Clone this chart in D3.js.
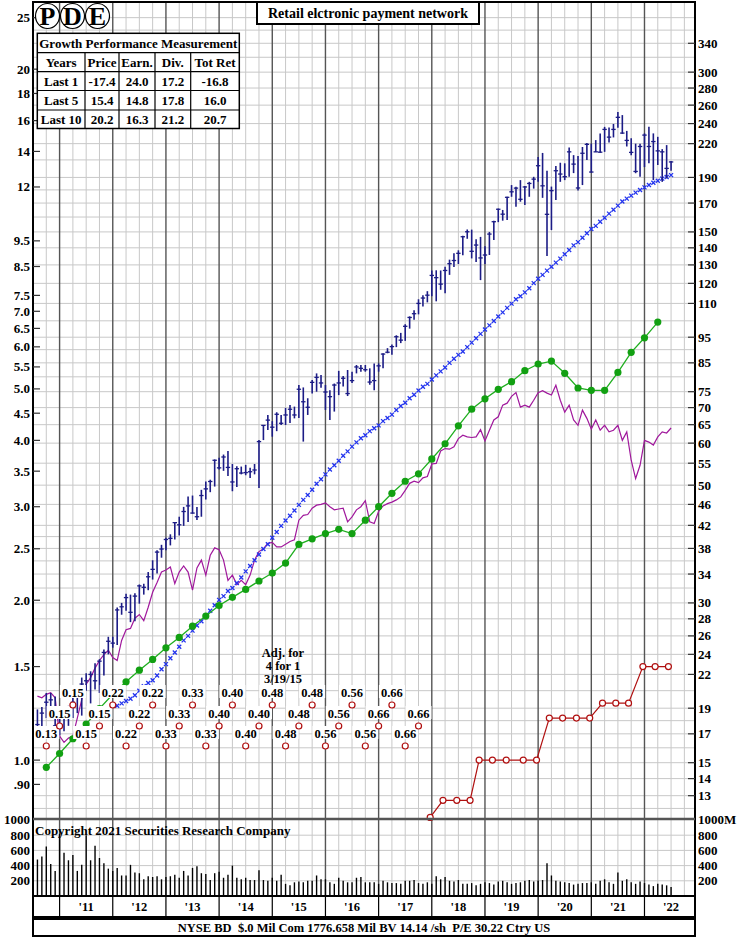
<!DOCTYPE html>
<html>
<head>
<meta charset="utf-8">
<script src="https://cdn.jsdelivr.net/npm/d3@7"></script>
<style>
  body { margin: 0; background: #fff; }
  text { font-family: "Liberation Serif", "Times New Roman", serif; font-weight: bold; }
</style>
</head>
<body>
<div id="visual"></div>
<script>
// monthly price bars, first bar = Aug 2010
const FIRST_MONTH = 2010 + 7 / 12

const priceHigh = [18.9, 19.1, 20.3, 20.3, 20.0, 18.4, 18.8, 19.2, 20.1, 20.4, 21.7, 22.1,
  22.3, 23.1, 23.5, 24.5, 25.9, 25.9, 29.4, 30.0, 31.2, 31.1, 31.3, 32.5,
  32.6, 34.3, 36.1, 37.7, 38.6, 39.8, 40.4, 42.6, 43.6, 45.5, 47.6, 47.8,
  45.5, 49.0, 50.8, 51.2, 55.9, 56.3, 57.1, 58.0, 54.8, 54.3, 54.2, 54.6,
  53.9, 54.8, 60.8, 64.9, 67.8, 66.0, 68.6, 67.8, 69.9, 70.8, 70.3, 77.2,
  76.4, 72.9, 78.9, 81.2, 80.6, 77.2, 75.5, 77.7, 82.1, 80.3, 82.4, 81.8,
  84.2, 84.2, 84.2, 83.0, 84.8, 84.8, 88.6, 90.6, 92.0, 95.8, 96.8, 100.5,
  104.0, 106.8, 112.0, 114.0, 116.0, 126.9, 127.0, 126.9, 128.9, 133.0, 136.7, 138.5,
  147.5, 151.6, 151.5, 145.3, 146.8, 141.0, 150.0, 157.5, 166.0, 165.0, 174.7, 183.8,
  182.5, 187.8, 183.0, 186.4, 190.5, 207.6, 211.3, 195.6, 182.6, 199.6, 202.5, 202.0,
  216.4, 209.3, 208.4, 216.8, 220.6, 220.0, 223.4, 229.9, 236.6, 235.9, 239.6, 252.5,
  249.0, 232.5, 225.2, 220.0, 220.0, 230.0, 236.6, 230.0, 226.6, 214.8, 218.6, 204.0]
const priceLow = [17.2, 17.5, 18.2, 18.6, 16.9, 16.9, 17.2, 17.6, 18.2, 18.6, 18.4, 20.5,
  19.4, 20.6, 20.3, 21.9, 24.0, 24.7, 25.0, 28.5, 29.0, 27.6, 27.7, 29.9,
  31.1, 31.7, 33.2, 34.1, 36.5, 37.7, 38.5, 39.5, 40.2, 41.9, 42.6, 44.2,
  43.0, 43.6, 47.0, 48.5, 49.7, 53.5, 53.2, 52.0, 48.7, 49.6, 52.4, 52.2,
  51.6, 52.4, 49.4, 60.8, 63.5, 61.7, 63.2, 64.9, 64.9, 65.5, 66.8, 66.9,
  60.4, 67.8, 74.4, 75.0, 76.3, 69.3, 66.3, 68.8, 73.9, 76.7, 73.6, 77.9,
  81.2, 81.8, 81.8, 77.3, 75.5, 81.8, 83.0, 88.6, 88.0, 91.0, 92.6, 93.5,
  98.6, 102.5, 104.9, 108.5, 110.5, 113.5, 111.0, 116.7, 115.0, 124.5, 128.8, 130.5,
  135.5, 145.6, 133.7, 131.6, 121.7, 130.5, 135.7, 144.8, 156.5, 157.5, 157.9, 174.7,
  167.3, 171.0, 168.6, 174.7, 181.0, 186.4, 173.9, 135.1, 151.2, 172.3, 186.4, 187.8,
  190.6, 193.6, 179.5, 183.8, 204.9, 194.0, 212.3, 211.5, 212.3, 221.0, 226.0, 235.7,
  229.6, 217.3, 209.3, 193.5, 190.6, 198.7, 202.0, 187.8, 200.5, 186.4, 189.2, 195.6]
const priceClose = [17.7, 18.6, 19.5, 19.7, 17.6, 17.5, 18.3, 18.4, 19.5, 20.3, 21.1, 21.4,
  22.0, 21.4, 23.3, 24.2, 25.4, 25.2, 29.1, 29.5, 30.7, 28.8, 30.9, 32.3,
  32.1, 33.6, 34.7, 37.4, 37.9, 39.5, 39.7, 42.5, 42.1, 44.6, 45.7, 44.3,
  43.6, 47.8, 49.2, 50.8, 55.7, 53.9, 56.5, 54.0, 50.7, 53.7, 52.7, 52.8,
  53.0, 53.4, 60.4, 64.8, 66.3, 64.3, 68.0, 65.4, 67.8, 69.5, 67.8, 75.8,
  71.8, 70.1, 78.1, 79.8, 77.9, 74.9, 73.4, 77.2, 77.9, 79.5, 74.4, 78.7,
  83.5, 83.0, 82.5, 78.2, 78.7, 83.9, 88.3, 89.0, 91.2, 95.2, 93.8, 99.6,
  103.5, 105.2, 110.0, 112.6, 114.0, 124.2, 123.0, 119.6, 126.9, 130.7, 132.5, 136.7,
  146.9, 150.1, 137.9, 141.7, 134.0, 135.7, 148.6, 156.8, 165.5, 162.0, 174.3, 178.5,
  181.4, 172.8, 182.3, 185.1, 188.6, 199.9, 183.2, 161.9, 179.4, 195.6, 192.8, 190.6,
  212.3, 201.3, 181.5, 211.0, 219.3, 194.5, 212.3, 212.0, 234.0, 226.3, 234.0, 246.6,
  230.3, 223.1, 211.8, 195.0, 217.3, 228.3, 217.3, 222.0, 213.2, 212.3, 197.6, 203.2]

// monthly volume, millions of shares
const volume = [480, 520, 650, 420, 330, 820, 570, 470, 540, 330, 410, 800,
  470, 660, 500, 430, 360, 330, 370, 270, 270, 410, 310, 300,
  220, 260, 250, 260, 220, 250, 260, 280, 240, 330, 270, 370,
  390, 300, 290, 210, 300, 320, 240, 280, 400, 240, 220, 240,
  210, 210, 340, 210, 200, 240, 200, 280, 160, 140, 180, 190,
  180, 200, 200, 270, 220, 220, 180, 160, 240, 200, 180, 180,
  240, 250, 180, 180, 180, 160, 200, 180, 170, 170, 160, 200,
  200, 210, 170, 160, 180, 160, 260, 220, 250, 200, 190, 210,
  160, 160, 170, 140, 160, 180, 170, 150, 190, 200, 180, 160,
  170, 180, 200, 210, 190, 200, 210, 430, 270, 200, 190, 180,
  170, 150, 160, 170, 170, 180, 160, 200, 220, 180, 160, 310,
  200, 220, 180, 160, 190, 170, 150, 130, 160, 150, 140, 120]

// magenta ratio line, monthly from first bar (left scale units)
const ratioLine = [1.32, 1.31, 1.33, 1.34, 1.31, 1.11, 1.08, 1.10, 1.11, 1.20, 1.30, 1.39,
  1.43, 1.49, 1.54, 1.58, 1.61, 1.56, 1.54, 1.68, 1.76, 1.77, 1.85, 1.88,
  1.83, 1.94, 2.07, 2.16, 2.26, 2.28, 2.31, 2.15, 2.26, 2.32, 2.26, 2.09,
  2.30, 2.38, 2.23, 2.43, 2.51, 2.49, 2.38, 2.18, 2.23, 2.14, 2.18, 2.14,
  2.23, 2.38, 2.47, 2.50, 2.56, 2.57, 2.52, 2.52, 2.55, 2.58, 2.60, 2.83,
  2.89, 2.90, 2.98, 3.02, 3.03, 3.05, 3.00, 2.96, 2.97, 2.98, 2.81, 2.87,
  2.96, 3.00, 3.08, 2.81, 2.79, 2.94, 3.01, 3.04, 3.06, 3.09, 3.13, 3.22,
  3.32, 3.35, 3.33, 3.40, 3.42, 3.61, 3.62, 3.82, 3.86, 3.85, 3.89, 4.03,
  4.09, 4.06, 4.05, 4.06, 4.19, 3.99, 4.18, 4.37, 4.43, 4.66, 4.70, 4.84,
  4.92, 4.62, 4.66, 4.62, 4.76, 4.92, 4.96, 4.91, 4.87, 5.08, 4.76, 4.52,
  4.66, 4.37, 4.27, 4.56, 4.40, 4.20, 4.37, 4.18, 4.27, 4.15, 4.18, 4.27,
  4.00, 4.15, 3.67, 3.39, 3.59, 4.00, 3.97, 3.92, 4.06, 4.15, 4.13, 4.22]

// blue x line (price scale), monthly starting at bar 18
const AVG_OFFSET = 18
const avgLine = [19.2, 19.4, 19.6, 19.8, 20.1, 20.5, 20.9, 21.2, 21.45, 21.9, 22.5, 23.0,
  23.6, 24.2, 24.8, 25.5, 26.0, 26.6, 27.2, 27.7, 28.4, 29.0, 29.7, 30.4,
  30.9, 31.6, 32.0, 32.7, 33.5, 34.4, 35.2, 36.1, 37.0, 37.9, 38.7, 39.8,
  40.8, 41.9, 42.9, 43.8, 44.8, 45.9, 46.9, 47.9, 49.0, 50.3, 51.3, 52.4,
  53.5, 54.5, 55.6, 56.8, 57.9, 59.1, 60.2, 61.3, 62.1, 63.2, 64.0, 64.8,
  66.0, 66.9, 67.9, 69.3, 70.5, 71.5, 72.9, 74.0, 75.4, 76.6, 77.6, 79.1,
  80.5, 81.9, 83.3, 85.0, 86.5, 88.0, 89.3, 91.0, 92.8, 94.6, 96.4, 98.2,
  100.0, 101.9, 103.9, 105.8, 107.9, 109.9, 112.0, 113.5, 115.4, 117.5, 120.1, 122.4,
  124.5, 126.8, 129.0, 131.3, 133.6, 136.2, 138.7, 141.5, 143.5, 146.3, 149.1, 151.9,
  154.0, 156.8, 159.5, 162.4, 165.2, 168.1, 171.1, 173.3, 175.6, 177.9, 179.9, 182.0,
  183.8, 185.7, 187.3, 189.0, 190.4, 191.9]

// quarterly earnings (left scale), first point Oct 2010
const EARN_START = 2010.75
const earnings = [0.969, 1.029, 1.097, 1.169, 1.25, 1.33, 1.404, 1.477, 1.547, 1.627, 1.702, 1.787,
  1.867, 1.955, 2.025, 2.096, 2.174, 2.25, 2.35, 2.548, 2.61, 2.67, 2.72, 2.67,
  2.83, 3.0, 3.18, 3.35, 3.46, 3.69, 3.94, 4.26, 4.58, 4.79, 4.99, 5.16,
  5.41, 5.57, 5.64, 5.35, 5.02, 4.97, 4.97, 5.37, 5.86, 6.24, 6.68]

// quarterly dividend labels, same start as earnings
const divLabels = ["0.13", "0.15", "0.15", "0.15", "0.15", "0.22", "0.22", "0.22", "0.22", "0.33",
  "0.33", "0.33", "0.33", "0.40", "0.40", "0.40", "0.40", "0.48", "0.48", "0.48",
  "0.48", "0.56", "0.56", "0.56", "0.56", "0.66", "0.66", "0.66", "0.66"]

// annual dividend rate (left scale)
const divDates = [2017.97, 2018.21, 2018.47, 2018.72, 2018.89, 2019.14, 2019.40, 2019.72, 2019.97,
  2020.21, 2020.46, 2020.72, 2020.97, 2021.21, 2021.46, 2021.70, 2021.97, 2022.20, 2022.45]
const divRate = [0.78, 0.84, 0.84, 0.84, 1.00, 1.00, 1.00, 1.00, 1.00,
  1.20, 1.20, 1.20, 1.20, 1.28, 1.28, 1.28, 1.50, 1.50, 1.50]

const years = [2011, 2012, 2013, 2014, 2015, 2016, 2017, 2018, 2019, 2020, 2021, 2022]
const yearLabels = ["'11", "'12", "'13", "'14", "'15", "'16", "'17", "'18", "'19", "'20", "'21", "'22"]

const leftTicks = [25, 20, 18, 16, 14, 12, 9.5, 8.5, 7.5, 7.0, 6.5, 6.0, 5.5, 5.0, 4.5, 4.0, 3.5, 3.0, 2.5, 2.0, 1.5, 1.0, 0.9]
const rightTicks = [340, 300, 280, 260, 240, 220, 190, 170, 150, 140, 130, 120, 110, 95, 85, 75, 70, 65,
  60, 55, 50, 46, 42, 38, 34, 30, 28, 26, 24, 22, 19, 17, 15, 14, 13]
const gridValues = [380, 360, 340, 320, 300, 280, 260, 240, 220, 205, 190, 180, 170, 160, 150, 140, 130,
  120, 110, 102, 95, 90, 85, 80, 75, 70, 65, 60, 55, 50, 46, 42, 40, 38, 36, 34, 32, 30, 28,
  26, 24, 22, 20.5, 19, 18, 17, 16, 15, 14, 13, 12.3]
const volTicks = [200, 400, 600, 800]

const perfHeader = ["Years", "Price", "Earn.", "Div.", "Tot Ret"]
const perfRows = [
  ["Last 1", "-17.4", "24.0", "17.2", "-16.8"],
  ["Last 5", "15.4", "14.8", "17.8", "16.0"],
  ["Last 10", "20.2", "16.3", "21.2", "20.7"]
]

// ---------------------------------------------------------------
const width = 741, height = 937
const plot = { left: 33, right: 695, top: 2, bottom: 818 }
const vol = { top: 820, bottom: 896 }

const svg = d3.select("#visual").append("svg")
  .attr("width", width).attr("height", height)
  .style("background", "#fff")

const x = d3.scaleLinear().domain([2010.5, 2022.95]).range([plot.left, plot.right])
const yPrice = d3.scaleLog().domain([11.8, 406.7]).range([plot.bottom, plot.top])
const yLeft = d3.scaleLog().domain([0.778, 26.76]).range([plot.bottom, plot.top])
const yVol = d3.scaleLinear().domain([0, 1000]).range([vol.bottom, vol.top])

const monthT = i => FIRST_MONTH + i / 12

// grid
const quarters = d3.range(2010.75, 2022.95, 0.25).filter(q => Math.abs(q - Math.round(q)) > 0.01)
const grid = svg.append("g")
grid.selectAll(".qv").data(quarters).enter().append("line")
  .attr("x1", d => x(d)).attr("x2", d => x(d))
  .attr("y1", plot.top).attr("y2", vol.bottom)
  .attr("stroke", "#c8c8c8").attr("stroke-width", 1)
grid.selectAll(".hg").data(gridValues).enter().append("line")
  .attr("x1", plot.left).attr("x2", plot.right)
  .attr("y1", d => yPrice(d)).attr("y2", d => yPrice(d))
  .attr("stroke", "#c8c8c8").attr("stroke-width", 1)
grid.selectAll(".vg").data(volTicks).enter().append("line")
  .attr("x1", plot.left).attr("x2", plot.right)
  .attr("y1", d => yVol(d)).attr("y2", d => yVol(d))
  .attr("stroke", "#c8c8c8").attr("stroke-width", 1)
grid.selectAll(".yl").data(years).enter().append("line")
  .attr("x1", d => x(d)).attr("x2", d => x(d))
  .attr("y1", plot.top).attr("y2", vol.bottom)
  .attr("stroke", "#555").attr("stroke-width", 1.4)

// volume bars
svg.selectAll(".vb").data(volume).enter().append("line")
  .attr("x1", (d, i) => x(monthT(i))).attr("x2", (d, i) => x(monthT(i)))
  .attr("y1", vol.bottom).attr("y2", d => yVol(d))
  .attr("stroke", "#000").attr("stroke-width", 1.4)

// magenta ratio line
svg.append("path").datum(ratioLine)
  .attr("fill", "none").attr("stroke", "#a0189c").attr("stroke-width", 1.2)
  .attr("d", d3.line().x((d, i) => x(monthT(i))).y(d => yLeft(d)))

// blue x markers
const avgG = svg.append("g").attr("stroke", "#2233ee").attr("stroke-width", 1.3)
avgLine.forEach((v, j) => {
  const cx = x(monthT(j + AVG_OFFSET)), cy = yPrice(v)
  avgG.append("path").attr("d", `M${cx - 2},${cy - 2}L${cx + 2},${cy + 2}M${cx - 2},${cy + 2}L${cx + 2},${cy - 2}`)
})

// earnings
const earnT = i => EARN_START + i * 0.25
svg.append("path").datum(earnings)
  .attr("fill", "none").attr("stroke", "#1fae1f").attr("stroke-width", 1.3)
  .attr("d", d3.line().x((d, i) => x(earnT(i))).y(d => yLeft(d)))
svg.selectAll(".ed").data(earnings).enter().append("circle")
  .attr("cx", (d, i) => x(earnT(i))).attr("cy", d => yLeft(d)).attr("r", 3.6)
  .attr("fill", "#12a012")

// dividend rate line
const divPts = divDates.map((t, i) => [t, divRate[i]])
svg.append("path").datum(divPts)
  .attr("fill", "none").attr("stroke", "#b01010").attr("stroke-width", 1.2)
  .attr("d", d3.line().x(d => x(d[0])).y(d => yLeft(d[1])))
svg.selectAll(".dr").data(divPts).enter().append("circle")
  .attr("cx", d => x(d[0])).attr("cy", d => yLeft(d[1])).attr("r", 3)
  .attr("fill", "#fff").attr("stroke", "#b01010").attr("stroke-width", 1.2)

// price bars
const bars = svg.append("g").attr("stroke", "#1c1c86")
priceHigh.forEach((hi, i) => {
  const bx = x(monthT(i))
  bars.append("line").attr("x1", bx).attr("x2", bx)
    .attr("y1", yPrice(hi)).attr("y2", yPrice(priceLow[i])).attr("stroke-width", 1.6)
  bars.append("line").attr("x1", bx - 2.2).attr("x2", bx + 2.2)
    .attr("y1", yPrice(priceClose[i])).attr("y2", yPrice(priceClose[i])).attr("stroke-width", 1.3)
})

// dividend labels, staggered in three rows
const divRowY = [746, 726, 705]
const dl = svg.append("g")
divLabels.forEach((s, i) => {
  const cx = x(earnT(i)), cy = divRowY[i % 3]
  dl.append("rect").attr("x", cx - 13).attr("y", cy - 20).attr("width", 26).attr("height", 13).attr("fill", "#fff")
  dl.append("text").attr("x", cx).attr("y", cy - 8).attr("text-anchor", "middle")
    .attr("font-size", 12.5).text(s)
  dl.append("circle").attr("cx", cx).attr("cy", cy).attr("r", 3)
    .attr("fill", "#fff").attr("stroke", "#b01010").attr("stroke-width", 1.2)
})

// split note
const adj = ["Adj. for", "4 for 1", "3/19/15"]
svg.selectAll(".adj").data(adj).enter().append("text")
  .attr("x", 283).attr("y", (d, i) => 657 + i * 13).attr("text-anchor", "middle")
  .attr("font-size", 12.5).text(d => d)

// borders
svg.append("rect").attr("x", plot.left).attr("y", plot.top)
  .attr("width", plot.right - plot.left).attr("height", vol.bottom - plot.top)
  .attr("fill", "none").attr("stroke", "#000").attr("stroke-width", 2)
svg.append("line").attr("x1", plot.left).attr("x2", plot.right)
  .attr("y1", 819).attr("y2", 819).attr("stroke", "#555").attr("stroke-width", 2.5)

// left axis
const leftAxis = svg.append("g")
leftAxis.selectAll("line").data(leftTicks).enter().append("line")
  .attr("x1", plot.left).attr("x2", plot.left + 7)
  .attr("y1", d => yLeft(d)).attr("y2", d => yLeft(d)).attr("stroke", "#333").attr("stroke-width", 1.2)
leftAxis.selectAll("text").data(leftTicks).enter().append("text")
  .attr("x", 30).attr("y", d => yLeft(d) + 4.5).attr("text-anchor", "end").attr("font-size", 13)
  .text(d => d >= 10 ? d : d < 1 ? ".90" : d.toFixed(1))

// right axis
const rightAxis = svg.append("g")
rightAxis.selectAll("line").data(rightTicks).enter().append("line")
  .attr("x1", plot.right - 7).attr("x2", plot.right)
  .attr("y1", d => yPrice(d)).attr("y2", d => yPrice(d)).attr("stroke", "#333").attr("stroke-width", 1.2)
rightAxis.selectAll("text").data(rightTicks).enter().append("text")
  .attr("x", 698).attr("y", d => yPrice(d) + 4.5).attr("font-size", 13)
  .text(d => d)

// volume axes
svg.append("text").attr("x", 30).attr("y", 824).attr("text-anchor", "end").attr("font-size", 13).text("1000")
svg.append("text").attr("x", 698).attr("y", 824).attr("font-size", 13).text("1000M")
volTicks.forEach(v => {
  svg.append("text").attr("x", 30).attr("y", yVol(v) + 4.5).attr("text-anchor", "end").attr("font-size", 13).text(v)
  svg.append("text").attr("x", 698).attr("y", yVol(v) + 4.5).attr("font-size", 13).text(v)
})
svg.append("text").attr("x", 35).attr("y", 835).attr("font-size", 13)
  .text("Copyright 2021 Securities Research Company")

// year band
svg.append("rect").attr("x", plot.left).attr("y", vol.bottom).attr("width", plot.right - plot.left)
  .attr("height", 21).attr("fill", "#fff").attr("stroke", "#000").attr("stroke-width", 2)
svg.selectAll(".yb").data(years).enter().append("line")
  .attr("x1", d => x(d)).attr("x2", d => x(d)).attr("y1", vol.bottom).attr("y2", vol.bottom + 21)
  .attr("stroke", "#000").attr("stroke-width", 1.2)
svg.selectAll(".ylab").data(years).enter().append("text")
  .attr("x", d => x(d + 0.5)).attr("y", vol.bottom + 15).attr("text-anchor", "middle")
  .attr("font-size", 12.5).text((d, i) => yearLabels[i])

// footer
svg.append("rect").attr("x", plot.left).attr("y", 919).attr("width", plot.right - plot.left)
  .attr("height", 17).attr("fill", "#fff").attr("stroke", "#000").attr("stroke-width", 2)
svg.append("text").attr("x", 364).attr("y", 931.5).attr("text-anchor", "middle").attr("font-size", 12.5)
  .attr("xml:space", "preserve")
  .text("NYSE BD  $.0 Mil Com 1776.658 Mil BV 14.14 /sh  P/E 30.22 Ctry US")

// title box
svg.append("rect").attr("x", 257).attr("y", 2).attr("width", 222).attr("height", 22)
  .attr("fill", "#fff").attr("stroke", "#000").attr("stroke-width", 2)
svg.append("text").attr("x", 368).attr("y", 18).attr("text-anchor", "middle").attr("font-size", 14)
  .text("Retail elctronic payment network")

// logo
const logo = ["P", "D", "E"]
logo.forEach((c, i) => {
  const cx = 47.5 + i * 25
  svg.append("ellipse").attr("cx", cx).attr("cy", 16).attr("rx", 12).attr("ry", 12.5)
    .attr("fill", "#fff").attr("stroke", "#000").attr("stroke-width", 1.2)
  svg.append("text").attr("x", cx).attr("y", 25).attr("text-anchor", "middle").attr("font-size", 26).text(c)
})

// growth table
const colX = [37.3, 85, 119, 155, 190.7, 239.3]
const rowY = [33.3, 52.7, 71.7, 90.5, 110, 128.5]
const tbl = svg.append("g")
tbl.append("rect").attr("x", colX[0]).attr("y", rowY[0]).attr("width", colX[5] - colX[0])
  .attr("height", rowY[5] - rowY[0]).attr("fill", "#fff").attr("stroke", "#000").attr("stroke-width", 1.5)
tbl.append("text").attr("x", (colX[0] + colX[5]) / 2).attr("y", rowY[0] + 14.5).attr("text-anchor", "middle")
  .attr("font-size", 13).text("Growth Performance Measurement")
rowY.slice(1, 5).forEach(ry => {
  tbl.append("line").attr("x1", colX[0]).attr("x2", colX[5]).attr("y1", ry).attr("y2", ry)
    .attr("stroke", "#000").attr("stroke-width", 1.2)
})
colX.slice(1, 5).forEach(cx => {
  tbl.append("line").attr("x1", cx).attr("x2", cx).attr("y1", rowY[1]).attr("y2", rowY[5])
    .attr("stroke", "#000").attr("stroke-width", 1.2)
})
const tableRows = [perfHeader].concat(perfRows)
tableRows.forEach((row, r) => {
  row.forEach((cell, c) => {
    tbl.append("text").attr("x", (colX[c] + colX[c + 1]) / 2).attr("y", rowY[r + 1] + 14)
      .attr("text-anchor", "middle").attr("font-size", 13).text(cell)
  })
})
</script>
</body>
</html>
